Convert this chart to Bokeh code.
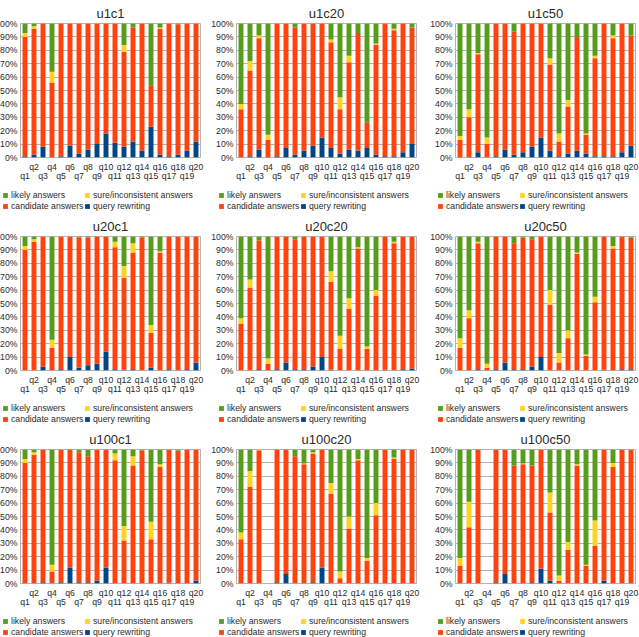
from bokeh.plotting import figure
from bokeh.models import (ColumnDataSource, Range1d, FixedTicker, LinearAxis,
                          Legend, LegendItem, PrintfTickFormatter)
from bokeh.layouts import row, column
from bokeh.embed import file_html
from bokeh.resources import INLINE

queries = ["q1", "q2", "q3", "q4", "q5", "q6", "q7", "q8", "q9", "q10",
           "q11", "q12", "q13", "q14", "q15", "q16", "q17", "q18", "q19", "q20"]
series_labels = ["query rewriting", "candidate answers",
                 "sure/inconsistent answers", "likely answers"]

# percentages per query, per panel
u1c1_rewriting = [1, 2, 8, 0, 1, 9, 3, 6, 10, 18, 11, 8, 12, 5, 23, 2, 1, 2, 5, 12]
u1c1_candidate = [89, 94, 92, 56, 99, 91, 97, 94, 90, 82, 89, 71, 85, 95, 31, 94, 99, 97.5, 95, 88]
u1c1_sure = [3, 2, 0, 8, 0, 0, 0, 0, 0, 0, 0, 5, 0, 0, 0, 1, 0, 0, 0, 0]
u1c1_likely = [7, 2, 0, 36, 0, 0, 0, 0, 0, 0, 0, 16, 3, 0, 46, 3, 0, 0.5, 0, 0]

u1c20_rewriting = [0, 1, 6, 0, 1, 7, 2, 5, 9, 15, 7, 3, 6, 5, 7, 2, 1, 1, 4, 10]
u1c20_candidate = [36, 64, 83, 13, 99, 93, 95, 95, 91, 85, 79, 33, 65, 88, 19, 82, 99, 94, 96, 87]
u1c20_sure = [4, 7, 2, 4, 0, 0, 0, 0, 0, 0, 2, 9, 5, 0, 0, 1, 0, 1, 0, 0]
u1c20_likely = [60, 28, 9, 83, 0, 0, 3, 0, 0, 0, 12, 55, 24, 7, 74, 15, 0, 4, 0, 3]

u1c50_rewriting = [0, 0, 4, 0, 1, 6, 2, 4, 8, 15, 5, 1, 3, 5, 3, 1, 1, 1, 4, 9]
u1c50_candidate = [13, 30, 73, 10, 99, 94, 92, 96, 92, 85, 64, 11, 35, 85, 14, 73, 99, 88, 96, 82]
u1c50_sure = [3, 6, 1, 5, 0, 0, 0, 0, 0, 0, 5, 6, 5, 0, 1, 2, 0, 2, 0, 0]
u1c50_likely = [84, 64, 22, 85, 0, 0, 6, 0, 0, 0, 26, 82, 57, 10, 82, 24, 0, 9, 0, 9]

u20c1_rewriting = [0, 0, 3, 0, 1, 10, 2, 4, 5, 14, 1, 0.5, 1, 0, 2, 0, 1, 0, 1, 6]
u20c1_candidate = [90, 96, 97, 17, 99, 90, 97.5, 95.5, 95, 86, 91, 68.5, 87, 99.5, 26, 88, 99, 100, 99, 94]
u20c1_sure = [3, 2, 0, 6, 0, 0, 0, 0, 0, 0, 4, 9, 7, 0, 6, 1, 0, 0, 0, 0]
u20c1_likely = [7, 2, 0, 77, 0, 0, 0.5, 0.5, 0, 0, 4, 22, 5, 0.5, 66, 11, 0, 0, 0, 0]

u20c20_rewriting = [0, 0, 1, 0, 1, 6, 1, 1, 3, 10, 0.5, 0, 0, 0, 0, 0, 0.5, 0, 1, 1.5]
u20c20_candidate = [35, 62, 96, 5, 99, 94, 97, 99, 97, 90, 65.5, 16, 46, 91, 16, 56, 99.5, 95, 99, 98.5]
u20c20_sure = [4, 6, 0, 4, 0, 0, 0, 0, 0, 0, 8, 10, 8, 1, 2, 4, 0, 1, 0, 0]
u20c20_likely = [61, 32, 3, 91, 0, 0, 2, 0, 0, 0, 26, 74, 46, 8, 82, 40, 0, 4, 0, 0]

u20c50_rewriting = [0, 0, 1, 0, 1, 6, 1, 1, 3, 10, 0, 0, 0, 0, 0, 0, 0.5, 0, 1, 1]
u20c50_candidate = [17, 39, 94, 2, 99, 94, 94, 98, 95, 90, 49, 6, 24, 87, 11, 51, 99.5, 91, 99, 98]
u20c50_sure = [7, 6, 1, 3, 0, 0, 0, 0, 0, 0, 11, 7, 6, 1, 1, 4, 0, 2, 0, 0]
u20c50_likely = [76, 55, 4, 95, 0, 0, 5, 1, 2, 0, 40, 87, 70, 12, 88, 45, 0, 7, 0, 1]

u100c1_rewriting = [0, 0, 1, 0, 1, 12, 1, 1, 2, 12, 0, 0, 0, 0, 0, 0, 0.5, 0, 0, 2]
u100c1_candidate = [90, 96, 99, 9, 99, 88, 97, 94, 98, 88, 92, 32, 88, 99, 33, 87, 99.5, 99, 100, 98]
u100c1_sure = [3, 2, 0, 5, 0, 0, 0, 0, 0, 0, 5, 11, 7, 0, 13, 2, 0, 0, 0, 0]
u100c1_likely = [7, 2, 0, 86, 0, 0, 2, 5, 0, 0, 3, 57, 5, 1, 54, 11, 0, 1, 0, 0]

u100c20_rewriting = [0, 0, 0, 0, 1, 7, 0, 0, 1, 12, 0, 0, 0, 0, 0, 0, 0, 0, 0, 0]
u100c20_candidate = [33, 72, 99.5, 0, 99, 93, 95, 89, 96, 88, 67, 4, 41, 92, 17, 51, 100, 93, 100, 100]
u100c20_sure = [5, 12, 0.5, 0, 0, 0, 0, 0.5, 1, 0, 8, 5, 9, 1, 2, 9, 0, 1, 0, 0]
u100c20_likely = [62, 16, 0, 0, 0, 0, 5, 10.5, 2, 0, 25, 91, 50, 7, 81, 40, 0, 6, 0, 0]

u100c50_rewriting = [0, 0, 0, 0, 1, 7, 0, 0, 1, 11, 2, 0, 0, 0, 0, 0, 2, 0, 0, 0]
u100c50_candidate = [13, 42, 100, 0, 99, 93, 88, 89, 87, 89, 51, 2, 25, 88, 13, 28, 98, 87, 100, 100]
u100c50_sure = [6, 19, 0, 0, 0, 0, 0, 0.5, 0, 0, 15, 4, 6, 1, 1, 19, 0, 3, 0, 0]
u100c50_likely = [81, 39, 0, 0, 0, 0, 12, 10.5, 12, 0, 32, 94, 69, 11, 86, 53, 0, 10, 0, 0]

panels = [
    ("u1c1", u1c1_rewriting, u1c1_candidate, u1c1_sure, u1c1_likely),
    ("u1c20", u1c20_rewriting, u1c20_candidate, u1c20_sure, u1c20_likely),
    ("u1c50", u1c50_rewriting, u1c50_candidate, u1c50_sure, u1c50_likely),
    ("u20c1", u20c1_rewriting, u20c1_candidate, u20c1_sure, u20c1_likely),
    ("u20c20", u20c20_rewriting, u20c20_candidate, u20c20_sure, u20c20_likely),
    ("u20c50", u20c50_rewriting, u20c50_candidate, u20c50_sure, u20c50_likely),
    ("u100c1", u100c1_rewriting, u100c1_candidate, u100c1_sure, u100c1_likely),
    ("u100c20", u100c20_rewriting, u100c20_candidate, u100c20_sure, u100c20_likely),
    ("u100c50", u100c50_rewriting, u100c50_candidate, u100c50_sure, u100c50_likely),
]

COLORS = ["#004586", "#FF420E", "#FFD320", "#579D1C"]
FONT = "Liberation Sans"
TXT = "#2a2a2a"
FS = "8.7px"
RIGHT = [4, 7, 4]
LEFT = 32
LEG_H = 26
# legend slots: (series index, x px from figure left, y px from strip bottom)
LEGEND_SLOTS = [(3, 14, 13), (2, 96, 13), (1, 14, 2), (0, 96, 2)]


def make_panel(title, rew, cand, sure, likely, col):
    positions = list(range(1, len(queries) + 1))
    src = ColumnDataSource(dict(x=positions, rew=rew, cand=cand, sure=sure, likely=likely))
    p = figure(frame_width=180, frame_height=134, x_range=Range1d(0.5, 20.5), y_range=Range1d(0, 100),
               output_backend="svg", toolbar_location=None, x_axis_type=None,
               min_border_left=LEFT, min_border_right=RIGHT[col],
               min_border_top=22, min_border_bottom=30)
    p.title.text = title
    p.title.align = "center"
    p.title.text_font = FONT
    p.title.text_font_size = "13px"
    p.title.text_font_style = "normal"
    p.title.text_color = TXT
    p.title.standoff = 6
    p.outline_line_color = "#b3b3b3"
    p.xgrid.visible = False
    p.ygrid.grid_line_color = "#b3b3b3"
    p.ygrid.ticker = FixedTicker(ticks=list(range(0, 101, 10)))

    ya = p.yaxis[0]
    ya.ticker = FixedTicker(ticks=list(range(0, 101, 10)))
    ya.formatter = PrintfTickFormatter(format="%d%%")
    ya.axis_line_color = None
    ya.major_tick_line_color = None
    ya.major_tick_in = 0
    ya.major_tick_out = 0
    ya.minor_tick_line_color = None
    ya.minor_tick_in = 0
    ya.minor_tick_out = 0
    ya.major_label_text_font = FONT
    ya.major_label_text_font_size = FS
    ya.major_label_text_color = TXT
    ya.major_label_standoff = 3

    for parity in (0, 1):
        ticks = [i + 1 for i in range(len(queries)) if (i + 1) % 2 == parity]
        ax = LinearAxis(ticker=FixedTicker(ticks=ticks),
                        major_label_overrides={t: queries[t - 1] for t in ticks})
        ax.axis_line_color = None
        ax.major_tick_line_color = None
        ax.major_tick_in = 0
        ax.major_tick_out = 0
        ax.minor_tick_line_color = None
        ax.minor_tick_in = 0
        ax.minor_tick_out = 0
        ax.major_label_text_font = FONT
        ax.major_label_text_font_size = FS
        ax.major_label_text_color = TXT
        ax.major_label_standoff = 4 if parity == 0 else -4
        p.add_layout(ax, "below")

    p.vbar_stack(["rew", "cand", "sure", "likely"], x="x", width=0.55,
                 color=COLORS, line_color=None, source=src)

    # legend strip under the panel; its swatch renderers use the panel data,
    # kept outside the strip's visible x range so only the legend shows
    width = LEFT + 180 + RIGHT[col]
    lg = figure(frame_width=width, frame_height=LEG_H, x_axis_type=None, y_axis_type=None,
                x_range=Range1d(-100, -99), y_range=Range1d(0, 1),
                output_backend="svg", toolbar_location=None,
                min_border=0, min_border_left=0, min_border_right=0,
                min_border_top=0, min_border_bottom=0)
    lg.outline_line_color = None
    lg.xgrid.visible = False
    lg.ygrid.visible = False
    swatches = [lg.vbar(x="x", top=key, width=0.5, color=c, line_color=None, source=src)
                for key, c in zip(["rew", "cand", "sure", "likely"], COLORS)]
    for idx, dx, dy in LEGEND_SLOTS:
        legend = Legend(items=[LegendItem(label=series_labels[idx], renderers=[swatches[idx]])],
                        location=(dx, dy),
                        label_text_font=FONT, label_text_font_size=FS, label_text_color=TXT,
                        glyph_width=6, glyph_height=6, label_height=10, label_standoff=3,
                        spacing=0, padding=0, margin=0, background_fill_alpha=0,
                        border_line_color=None)
        lg.add_layout(legend, "center")
    cell = column(p, lg, spacing=0)
    if col == 0:
        cell.margin = (0, 0, 0, -12)
    return cell


cells = [make_panel(*panels[i], i % 3) for i in range(9)]
layout = column(row(cells[0:3]), row(cells[3:6]), row(cells[6:9]))

open("out.html", "w").write(file_html(layout, INLINE))
